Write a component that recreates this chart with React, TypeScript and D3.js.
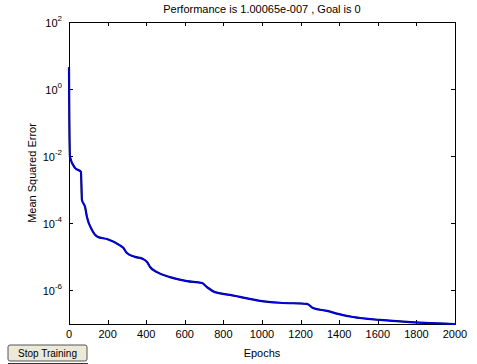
import React, { useRef, useEffect } from 'react';
import * as d3 from 'd3';

// training record
const epochs = [0, 1, 5, 31, 62, 67, 83, 93, 119, 150, 197, 264, 280, 300, 342, 383, 404, 420, 456, 523, 611, 689, 715, 756, 834, 886, 990, 1093, 1233, 1264, 1337, 1394, 1471, 1611, 1751, 1870, 2000];
const mse = [4.5, 0.5, 0.0095, 0.0045, 0.0034, 5.0e-4, 3.1e-4, 1.55e-4, 6.3e-5, 3.9e-5, 3.4e-5, 2.2e-5, 1.9e-5, 1.3e-5, 1.0e-5, 8.7e-6, 7.1e-6, 5.0e-6, 3.5e-6, 2.5e-6, 1.9e-6, 1.66e-6, 1.26e-6, 8.9e-7, 7.4e-7, 6.4e-7, 4.9e-7, 4.3e-7, 4.0e-7, 3.0e-7, 2.45e-7, 2.0e-7, 1.62e-7, 1.32e-7, 1.15e-7, 1.07e-7, 1.00065e-7];
const xTicks = [0, 200, 400, 600, 800, 1000, 1200, 1400, 1600, 1800, 2000];
const yExponents = [2, 0, -2, -4, -6];

const titleText = 'Performance is 1.00065e-007 , Goal is 0';

export default function App() {
  const svgRef = useRef<SVGSVGElement>(null);

  const width = 477;
  const height = 364;
  const margin = { top: 22, right: 22, bottom: 40, left: 69 };
  const plotW = width - margin.left - margin.right;
  const plotH = height - margin.top - margin.bottom;

  useEffect(() => {
    const svg = d3.select(svgRef.current);
    svg.selectAll('*').remove();
    const font = 'Liberation Sans, Arial, sans-serif';

    const x = d3.scaleLinear().domain([0, 2000]).range([0, plotW]);
    const y = d3.scaleLog().domain([1e-7, 1e2]).range([plotH, 0]);

    const g = svg.append('g')
      .attr('transform', `translate(${margin.left},${margin.top})`);

    // box
    g.append('rect')
      .attr('width', plotW).attr('height', plotH)
      .attr('fill', 'white').attr('stroke', 'black').attr('stroke-width', 1)
      .attr('shape-rendering', 'crispEdges');

    const tickLen = 4;
    // x ticks (bottom and top, inward)
    xTicks.forEach(t => {
      const px = Math.round(x(t)) + 0.5;
      g.append('line').attr('x1', px).attr('x2', px).attr('y1', plotH).attr('y2', plotH - tickLen).attr('stroke', 'black');
      g.append('line').attr('x1', px).attr('x2', px).attr('y1', 0).attr('y2', tickLen).attr('stroke', 'black');
      g.append('text')
        .attr('x', x(t)).attr('y', plotH + 14)
        .attr('text-anchor', 'middle')
        .style('font-family', font).style('font-size', '11px')
        .text(t);
    });

    // y ticks (left and right, inward)
    yExponents.forEach(e => {
      const py = Math.round(y(Math.pow(10, e))) + 0.5;
      g.append('line').attr('x1', 0).attr('x2', tickLen).attr('y1', py).attr('y2', py).attr('stroke', 'black');
      g.append('line').attr('x1', plotW).attr('x2', plotW - tickLen).attr('y1', py).attr('y2', py).attr('stroke', 'black');
      const label = g.append('text')
        .attr('x', -7).attr('y', py + 4)
        .attr('text-anchor', 'end')
        .style('font-family', font).style('font-size', '11px');
      label.append('tspan').text('10');
      label.append('tspan').attr('dy', -6).style('font-size', '8px').text(e);
    });

    const line = d3.line<number>()
      .x((d, i) => x(epochs[i]))
      .y(d => y(d))
      .curve(d3.curveMonotoneX);

    g.append('path')
      .datum(mse)
      .attr('fill', 'none')
      .attr('stroke', '#000060')
      .attr('stroke-width', 2.2)
      .attr('d', line);
    g.append('path')
      .datum(mse)
      .attr('fill', 'none')
      .attr('stroke', '#0000ff')
      .attr('stroke-width', 1.3)
      .attr('d', line);

    // title
    svg.append('text')
      .attr('x', margin.left + plotW / 2).attr('y', 13)
      .attr('text-anchor', 'middle')
      .style('font-family', font).style('font-size', '11px')
      .text(titleText);

    svg.append('text')
      .attr('x', margin.left + plotW / 2).attr('y', height - 7)
      .attr('text-anchor', 'middle')
      .style('font-family', font).style('font-size', '11px')
      .text('Epochs');

    svg.append('text')
      .attr('transform', `translate(36,${margin.top + plotH / 2}) rotate(-90)`)
      .attr('text-anchor', 'middle')
      .style('font-family', font).style('font-size', '11px')
      .text('Mean Squared Error');

    // stop training button
    const btn = svg.append('g').attr('transform', 'translate(8,345)');
    btn.append('rect')
      .attr('width', 79).attr('height', 16).attr('rx', 2)
      .attr('fill', '#ece9d8').attr('stroke', '#555').attr('stroke-width', 1);
    btn.append('line').attr('x1', 0).attr('x2', 80).attr('y1', 18.5).attr('y2', 18.5).attr('stroke', '#333');
    btn.append('text')
      .attr('x', 39.5).attr('y', 12)
      .attr('text-anchor', 'middle')
      .style('font-family', font).style('font-size', '10px')
      .text('Stop Training');
  }, []);

  return (
    <svg
      ref={svgRef}
      width={width}
      height={height}
      style={{ position: 'absolute', left: 0, top: 0, background: 'white' }}
    />
  );
}
